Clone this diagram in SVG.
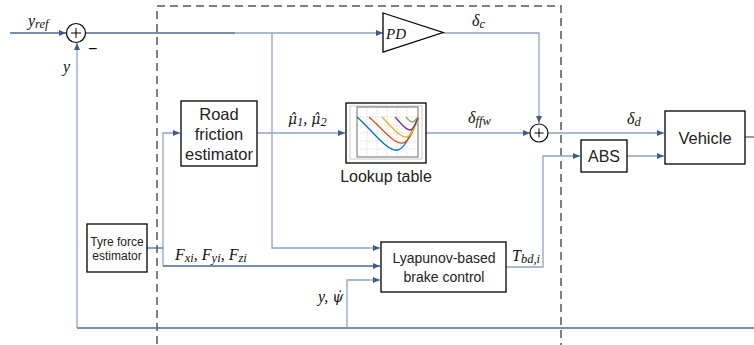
<svg xmlns="http://www.w3.org/2000/svg" width="754" height="345" viewBox="0 0 754 345">
  <defs>
    <marker id="arr" markerWidth="7" markerHeight="6" refX="7" refY="3" orient="auto" markerUnits="userSpaceOnUse">
      <path d="M0,0 L7,3 L0,6 z" fill="#3d5c8c"/>
    </marker>
    <style>
      .blk { fill: #fff; stroke: #000; stroke-width: 1.3; }
      .ln { fill: none; stroke: #8fa3c4; stroke-width: 1.3; }
      .dk { fill: none; stroke: #4a6893; stroke-width: 1.3; }
      .lbl { font-family: "Liberation Sans", Arial, sans-serif; fill: #222; text-anchor: middle; }
      .m { font-family: "Liberation Serif", "Times New Roman", serif; font-style: italic; fill: #111; font-size: 16px; }
      .sub { font-size: 12.5px; }
      .dj { font-family: "DejaVu Serif", serif; font-size: 14px; }
      .grid { stroke: #bbb; stroke-width: 0.5; stroke-dasharray: 1.5,1.5; }
      .crv { fill: none; stroke-width: 1.3; }
    </style>
  </defs>
  <rect width="754" height="345" fill="#fff"/>

  <!-- controller boundary -->
  <rect x="157" y="6" width="404" height="350" fill="none" stroke="#555" stroke-width="1.5" stroke-dasharray="8,5"/>

  <!-- signal lines -->
  <g id="connectors">
    <path class="dk" d="M10,33 H66" marker-end="url(#arr)"/>
    <path class="dk" d="M86,33 H235"/>
    <path class="ln" d="M235,33 H383" marker-end="url(#arr)"/>
    <path class="ln" d="M272,33 V248 H380" marker-end="url(#arr)"/>
    <path class="ln" d="M443,33 H539 V123" marker-end="url(#arr)"/>
    <path class="ln" d="M257,133 H345" marker-end="url(#arr)"/>
    <path class="ln" d="M426,133 H530" marker-end="url(#arr)"/>
    <path class="ln" d="M548,133 H664" marker-end="url(#arr)"/>
    <path class="ln" d="M163,266 V133 H180" marker-end="url(#arr)"/>
    <path class="dk" d="M147,248 H163"/>
    <path class="dk" d="M163,266 H380" marker-end="url(#arr)"/>
    <path class="ln" d="M506,267 H543 V156 H580" marker-end="url(#arr)"/>
    <path class="ln" d="M627,156 H664" marker-end="url(#arr)"/>
    <path class="dk" d="M745,137 H754"/>
    <path class="dk" d="M754,328 H77"/>
    <path class="ln" d="M77,328 V43" marker-end="url(#arr)"/>
    <path class="ln" d="M347,328 V280 H380" marker-end="url(#arr)"/>
  </g>

  <!-- summing junctions -->
  <g id="sum1">
    <circle cx="76" cy="33" r="9.5" fill="#fff" stroke="#000" stroke-width="1.2"/>
    <path d="M71,33 H81 M76,28 V38" stroke="#000" stroke-width="1"/>
    <text x="88" y="54" style="font-family:'Liberation Sans',sans-serif;font-size:16px;">−</text>
  </g>
  <g id="sum2">
    <circle cx="539" cy="133" r="9" fill="#fff" stroke="#000" stroke-width="1.2"/>
    <path d="M534.5,133 H543.5 M539,128.5 V137.5" stroke="#000" stroke-width="1"/>
  </g>

  <!-- PD controller -->
  <g id="pd">
    <path d="M383,13 L443,32.5 L383,52 z" class="blk"/>
    <text x="386" y="39" class="m" style="font-size:15px;">PD</text>
  </g>

  <!-- road friction estimator -->
  <g id="road-friction">
    <rect x="181" y="101" width="76" height="65" class="blk"/>
    <text class="lbl" x="219" y="120" font-size="16.5">Road</text>
    <text class="lbl" x="219" y="140" font-size="16.5">friction</text>
    <text class="lbl" x="219" y="160" font-size="16.5">estimator</text>
  </g>

  <!-- lookup table -->
  <g id="lookup">
    <rect x="346" y="103" width="80" height="60" class="blk" stroke-width="1.6"/>
    <rect x="350" y="106" width="72" height="53" fill="#fff" stroke="#999" stroke-width="0.5"/>
    <g class="grid">
      <path d="M367,107 V157 M377,107 V157 M387,107 V157 M397,107 V157 M407,107 V157"/>
      <path d="M357,117 H418 M357,125 H418 M357,133 H418 M357,141 H418 M357,149 H418"/>
    </g>
    <rect x="357" y="107" width="61" height="50" fill="none" stroke="#333" stroke-width="0.7"/>
    <path class="crv" stroke="#0072bd" d="M357,117 C372,130 388,153 398,150 C406,148 412,130 418,118"/>
    <path class="crv" stroke="#d95319" d="M369,117 C382,128 394,145 403,143 C410,141 414,128 418,118"/>
    <path class="crv" stroke="#edb120" d="M382,117 C392,127 400,138 407,137 C412,136 415,125 418,118"/>
    <path class="crv" stroke="#7e2f8e" d="M395,117 C401,123 405,130 410,130 C414,130 416,122 418,118"/>
    <path class="crv" stroke="#77ac30" d="M406,117 C408,119 410,122 412,122 C415,122 416,119 418,117"/>
    <text class="lbl" x="386" y="182" font-size="16">Lookup table</text>
  </g>

  <!-- tyre force estimator -->
  <g id="tyre-force">
    <rect x="87" y="224" width="60" height="48" class="blk"/>
    <text class="lbl" x="117" y="246" font-size="12">Tyre force</text>
    <text class="lbl" x="117" y="260" font-size="12">estimator</text>
  </g>

  <!-- brake controller -->
  <g id="lyapunov">
    <rect x="381" y="242" width="125" height="50" class="blk"/>
    <text class="lbl" x="444" y="263" font-size="14">Lyapunov-based</text>
    <text class="lbl" x="444" y="282" font-size="14">brake control</text>
  </g>

  <!-- ABS -->
  <g id="abs">
    <rect x="581" y="140" width="46" height="32" class="blk"/>
    <text class="lbl" x="604" y="162" font-size="16">ABS</text>
  </g>

  <!-- vehicle -->
  <g id="vehicle">
    <rect x="665" y="111" width="80" height="53" class="blk"/>
    <text class="lbl" x="705" y="144" font-size="16.5">Vehicle</text>
  </g>

  <!-- signal labels -->
  <g id="labels">
    <text class="m" x="28" y="26">y<tspan class="sub" dy="2">ref</tspan></text>
    <text class="m" x="63" y="72">y</text>
    <text class="m" x="472" y="26">δ<tspan class="sub" dy="2">c</tspan></text>
    <text class="m" x="288" y="124"><tspan class="dj">μ̂</tspan><tspan class="sub" dy="2">1</tspan><tspan dy="-2">, </tspan><tspan class="dj">μ̂</tspan><tspan class="sub" dy="2">2</tspan></text>
    <text class="m" x="468" y="123">δ<tspan class="sub" dy="2">ffw</tspan></text>
    <text class="m" x="627" y="124">δ<tspan class="sub" dy="2">d</tspan></text>
    <text class="m" x="175" y="260">F<tspan class="sub" dy="2">xi</tspan><tspan dy="-2">, F</tspan><tspan class="sub" dy="2">yi</tspan><tspan dy="-2">, F</tspan><tspan class="sub" dy="2">zi</tspan></text>
    <text class="m" x="318" y="302">y, <tspan class="dj">ψ̇</tspan></text>
    <text class="m" x="512" y="261">T<tspan class="sub" dy="2">bd,i</tspan></text>
  </g>
</svg>
